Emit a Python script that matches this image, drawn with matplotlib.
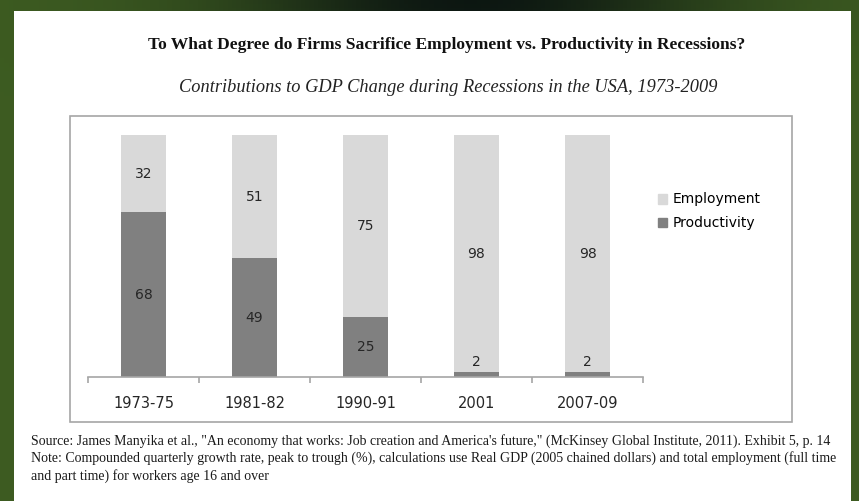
import numpy as np
import matplotlib
matplotlib.use("Agg")
import matplotlib.pyplot as plt
from matplotlib.patches import Rectangle, Patch

# Data
periods = ["1973-75", "1981-82", "1990-91", "2001", "2007-09"]
productivity = [68, 49, 25, 2, 2]
employment = [32, 51, 75, 98, 98]

title = "To What Degree do Firms Sacrifice Employment vs. Productivity in Recessions?"
subtitle = "Contributions to GDP Change during Recessions in the USA, 1973-2009"
source_lines = [
    "Source: James Manyika et al., \"An economy that works: Job creation and America's future,\" "
    "(McKinsey Global Institute, 2011). Exhibit 5, p. 14",
    "Note: Compounded quarterly growth rate, peak to trough (%), calculations use Real GDP "
    "(2005 chained dollars) and total employment (full time",
    "and part time) for workers age 16 and over",
]

W, H = 859, 501
fig = plt.figure(figsize=(W / 100, H / 100), dpi=100)

# dark green backdrop with a dark band near the top middle
bg = fig.add_axes([0, 0, 1, 1])
bg.axis("off")
xx, yy = np.meshgrid(np.linspace(0, 1, 200), np.linspace(0, 1, 120))
green = np.array([0.24, 0.36, 0.13])
dark = np.array([0.05, 0.09, 0.07])
w = np.exp(-((xx - 0.55) ** 2) / 0.08 - (yy ** 2) / 0.02)
img = green[None, None, :] * (1 - w[..., None]) + dark[None, None, :] * w[..., None]
bg.imshow(img, extent=[0, 1, 0, 1], aspect="auto", origin="upper")
bg.set_xlim(0, 1)
bg.set_ylim(0, 1)


def fx(px):
    return px / W


def fy(py):
    return 1 - py / H


# white panel
fig.patches.append(Rectangle((fx(14), 0), fx(851) - fx(14), fy(11), transform=fig.transFigure,
                             facecolor="white", edgecolor="none", zorder=1))
# chart frame
fig.patches.append(Rectangle((fx(70), fy(422)), fx(792) - fx(70), fy(116) - fy(422),
                             transform=fig.transFigure, facecolor="white",
                             edgecolor="#a6a6a6", linewidth=1.2, zorder=2))

fig.text(fx(447), fy(45), title, ha="center", va="center", fontsize=12.6,
         fontweight="bold", family="Liberation Serif", color="#111111", zorder=3)
fig.text(fx(448), fy(87), subtitle, ha="center", va="center", fontsize=13.2,
         fontstyle="italic", family="Liberation Serif", color="#222222", zorder=3)

ax = fig.add_axes([fx(88), fy(377), fx(643) - fx(88), fy(135) - fy(377)], zorder=4)
ax.patch.set_alpha(0)
x = np.arange(len(periods))
bw = 0.41
ax.bar(x, productivity, bw, color="#808080", label="Productivity")
ax.bar(x, employment, bw, bottom=productivity, color="#d9d9d9", label="Employment")

lab_font = dict(fontsize=10, family="DejaVu Sans", color="#262626", ha="center")
for i in range(len(periods)):
    p, e = productivity[i], employment[i]
    if p < 5:
        ax.text(x[i], p + 1.5, str(p), va="bottom", **lab_font)
    else:
        ax.text(x[i], p / 2, str(p), va="center", **lab_font)
    ax.text(x[i], p + e / 2, str(e), va="center", **lab_font)

ax.set_xlim(-0.5, len(periods) - 0.5)
ax.set_ylim(0, 100)
for s in ["left", "right", "top"]:
    ax.spines[s].set_visible(False)
ax.spines["bottom"].set_color("#a6a6a6")
ax.spines["bottom"].set_linewidth(1.2)
ax.set_yticks([])
ax.set_xticks(x)
ax.set_xticklabels(periods, fontsize=10.5, family="DejaVu Sans", color="#262626")
ax.tick_params(axis="x", which="major", length=0, pad=14)
ax.set_xticks(np.arange(-0.5, len(periods)), minor=True)
ax.tick_params(axis="x", which="minor", length=4, color="#a6a6a6", width=1.2)

handles = [Patch(color="#d9d9d9", label="Employment"),
           Patch(color="#808080", label="Productivity")]
fig.legend(handles=handles, loc="upper left", bbox_to_anchor=(fx(645), fy(180)),
           frameon=False, handlelength=0.7, handleheight=0.7,
           handletextpad=0.4, labelspacing=0.7, prop={"family": "DejaVu Sans", "size": 10})

for k, line in enumerate(source_lines):
    fig.text(fx(31), fy(441 + 17.5 * k), line, ha="left", va="center", fontsize=10,
             family="Liberation Serif", color="#1a1a1a", zorder=3)

fig.savefig("out.png", dpi=100)
